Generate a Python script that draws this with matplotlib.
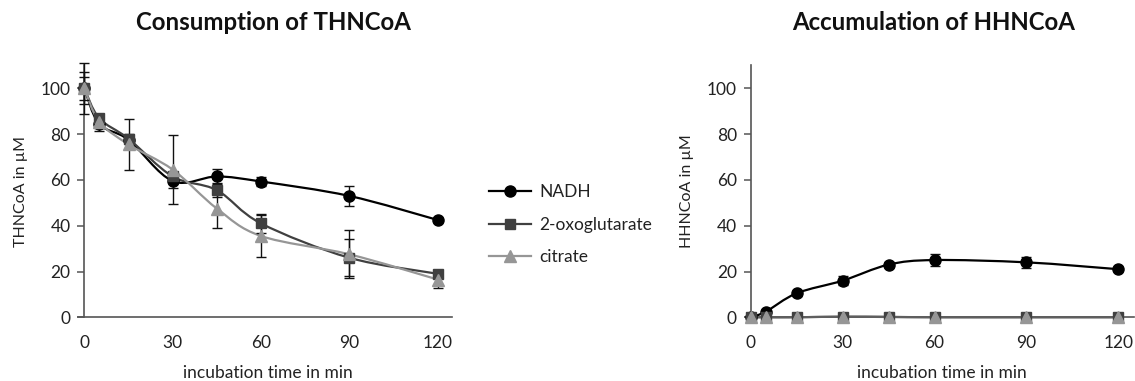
import numpy as np
import matplotlib
matplotlib.use("Agg")
import matplotlib.pyplot as plt
from matplotlib.path import Path
from matplotlib.patches import PathPatch
from matplotlib.lines import Line2D

plt.rcParams['font.family'] = ['Lato', 'DejaVu Sans']

t = [0, 5, 15, 30, 45, 60, 90, 120]

# consumption of THNCoA (uM)
thn_nadh = [100, 84.5, 77.5, 59.5, 61.5, 59.3, 53, 42.5]
thn_nadh_err = [7, 3, 2, 3, 3.3, 2, 4.4, 1]
thn_oxo = [100, 87, 78, 61.5, 55.5, 41, 26, 19]
thn_oxo_err = [5, 2, 2, 2, 3, 4, 8, 1]
thn_cit = [100, 85.5, 75.5, 64.5, 47.5, 35.5, 27.5, 16.5]
thn_cit_err = [11, 3, 11, 15, 8.3, 9, 10.5, 3.5]

# accumulation of HHNCoA (uM)
hhn_nadh = [0, 2.5, 10.5, 16, 23, 25, 24, 21]
hhn_nadh_err = [0.5, 0.5, 1, 2, 1.2, 2.5, 2.3, 0.8]
hhn_oxo = [0, 0, 0, 0.3, 0.2, 0, 0, 0]
hhn_oxo_err = [0, 0, 0, 0.3, 0.2, 0, 0, 0]
hhn_cit = [0, 0, 0, 0.3, 0.1, 0, 0, 0]
hhn_cit_err = [0, 0, 0, 0.2, 0.1, 0, 0, 0]

labels = ['NADH', '2-oxoglutarate', 'citrate']
colors = ['#000000', '#404040', '#969696']
markers = ['o', 's', '^']
msizes = [8, 7.5, 8]


def smooth_path(x, y):
    # bezier segments like the smoothed lines of a spreadsheet chart
    x = np.asarray(x, float)
    y = np.asarray(y, float)
    n = len(x)
    verts = [(x[0], y[0])]
    codes = [Path.MOVETO]
    for i in range(n - 1):
        x0, y0 = (x[i - 1], y[i - 1]) if i > 0 else (x[i], y[i])
        x3, y3 = (x[i + 2], y[i + 2]) if i + 2 < n else (x[i + 1], y[i + 1])
        c1 = (x[i] + (x[i + 1] - x0) / 6, y[i] + (y[i + 1] - y0) / 6)
        c2 = (x[i + 1] - (x3 - x[i]) / 6, y[i + 1] - (y3 - y[i]) / 6)
        verts += [c1, c2, (x[i + 1], y[i + 1])]
        codes += [Path.CURVE4] * 3
    return Path(verts, codes)


def panel(ax, series, errs, ylabel):
    for k in [2, 1, 0]:
        p = PathPatch(smooth_path(t, series[k]), fill=False, edgecolor=colors[k],
                      lw=1.6, clip_on=False, zorder=2 + k * 0.1)
        ax.add_patch(p)
        ax.errorbar(t, series[k], yerr=errs[k], fmt='none', ecolor='#111111',
                    elinewidth=1.0, capsize=3.5, capthick=1.0, clip_on=False, zorder=3)
        ax.plot(t, series[k], ls='none', marker=markers[k], ms=msizes[k],
                color=colors[k], mec=colors[k], clip_on=False, zorder=4 + k * 0.1)
    ax.set_xlim(0, 125)
    ax.set_ylim(0, 110)
    ax.set_xticks([0, 30, 60, 90, 120])
    ax.set_yticks([0, 20, 40, 60, 80, 100])
    for s in ['top', 'right']:
        ax.spines[s].set_visible(False)
    for s in ['left', 'bottom']:
        ax.spines[s].set_color('#555555')
        ax.spines[s].set_linewidth(1.2)
    ax.spines['bottom'].set_bounds(-2, 125)
    ax.tick_params(axis='y', direction='out', length=5, width=1.1, color='#555555',
                   labelsize=12.5, labelcolor='#222222', pad=5)
    ax.tick_params(axis='x', length=0, labelsize=12.5, labelcolor='#222222', pad=13)
    ax.set_xlabel('incubation time in min', fontsize=12.5, color='#222222', labelpad=10)
    ax.set_ylabel(ylabel, fontsize=11.5, color='#222222', labelpad=9)


fig = plt.figure(figsize=(11.35, 3.81), dpi=100)
ax1 = fig.add_axes([0.0743, 0.1672, 0.3243, 0.6611])
ax2 = fig.add_axes([0.6614, 0.1672, 0.3374, 0.6611])

panel(ax1, [thn_nadh, thn_oxo, thn_cit], [thn_nadh_err, thn_oxo_err, thn_cit_err],
      'THNCoA in µM')
panel(ax2, [hhn_nadh, hhn_oxo, hhn_cit], [hhn_nadh_err, hhn_oxo_err, hhn_cit_err],
      'HHNCoA in µM')

fig.text(273.5 / 1135, 1 - 22 / 381, 'Consumption of THNCoA', ha='center', va='center',
         fontsize=17.3, fontweight='bold', color='#111111')
fig.text(934 / 1135, 1 - 22 / 381, 'Accumulation of HHNCoA', ha='center', va='center',
         fontsize=17.3, fontweight='bold', color='#111111')

handles = [Line2D([], [], color=colors[k], marker=markers[k], ms=msizes[k], lw=1.6)
           for k in range(3)]
fig.legend(handles, labels, loc='center left', bbox_to_anchor=(0.425, 0.4095),
           frameon=False, fontsize=12.5, handlelength=2.4, labelspacing=0.95,
           handletextpad=0.5, labelcolor='#222222', borderaxespad=0)

fig.savefig('out.png', dpi=100)
